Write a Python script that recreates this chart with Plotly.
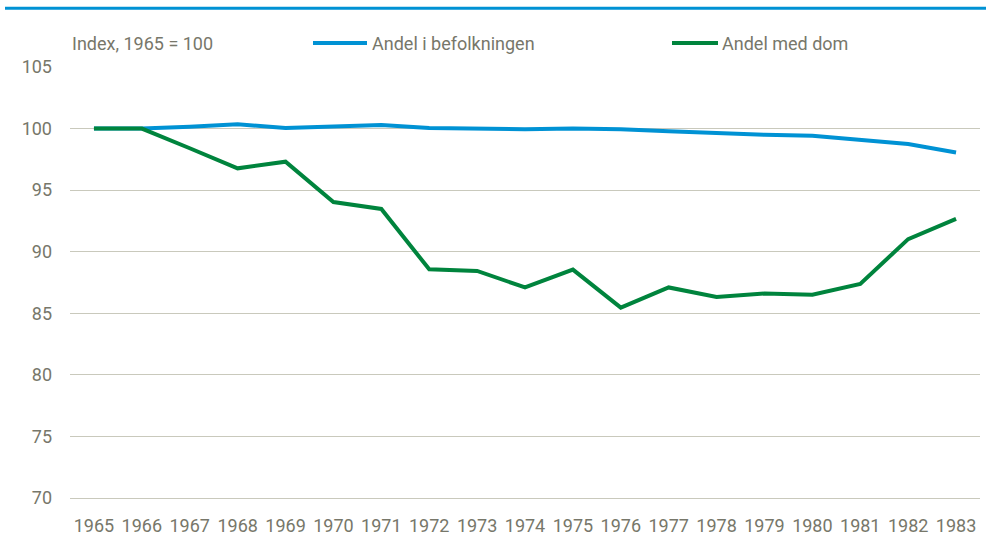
import plotly.graph_objects as go

years = [str(y) for y in range(1965, 1984)]
andel_befolkning = [100.0, 100.0, 100.15, 100.35, 100.05, 100.2, 100.3, 100.05, 100.0, 99.95,
                    100.0, 99.95, 99.78, 99.63, 99.5, 99.42, 99.1, 98.75, 98.05]
andel_dom = [100.0, 100.0, 98.4, 96.77, 97.31, 94.03, 93.47, 88.57, 88.44, 87.1,
             88.55, 85.46, 87.1, 86.32, 86.6, 86.5, 87.39, 91.02, 92.66]
y_ticks = [70, 75, 80, 85, 90, 95, 100, 105]
series_names = ["Andel i befolkningen", "Andel med dom"]

FONT = "Roboto, Liberation Sans, sans-serif"
TEXT = "#77776a"
GRID = "#c9c9bc"
BLUE = "#0092d4"
GREEN = "#00843d"

fig = go.Figure()
fig.add_trace(go.Scatter(x=years, y=andel_befolkning, mode="lines", name=series_names[0],
                         line=dict(color=BLUE, width=4)))
fig.add_trace(go.Scatter(x=years, y=andel_dom, mode="lines", name=series_names[1],
                         line=dict(color=GREEN, width=4)))

# plot area spans x 70..980 px, y 67..500 px
L, R, T, B = 70, 980, 67, 500


def px(x):
    return (x - L) / (R - L)


def py(y):
    return (B - y) / (B - T)


legend_y = py(43)
shapes = [
    dict(type="line", xref="paper", yref="paper", x0=px(5), x1=px(986), y0=py(8), y1=py(8),
         line=dict(color=BLUE, width=3)),
    dict(type="line", xref="paper", yref="paper", x0=px(313), x1=px(367), y0=legend_y, y1=legend_y,
         line=dict(color=BLUE, width=4)),
    dict(type="line", xref="paper", yref="paper", x0=px(672), x1=px(718), y0=legend_y, y1=legend_y,
         line=dict(color=GREEN, width=4)),
]
annotations = [
    dict(text="Index, 1965 = 100", x=px(70), y=legend_y),
    dict(text=series_names[0], x=px(370), y=legend_y),
    dict(text=series_names[1], x=px(720), y=legend_y),
]
for a in annotations:
    a.update(xref="paper", yref="paper", xanchor="left", yanchor="middle", showarrow=False,
             font=dict(family=FONT, size=18, color=TEXT))

fig.update_layout(
    width=986, height=542,
    margin=dict(l=L, r=986 - R, t=T, b=542 - B),
    paper_bgcolor="white", plot_bgcolor="white",
    font=dict(family=FONT, size=18, color=TEXT),
    showlegend=False,
    xaxis=dict(type="category", range=[-0.5, 18.5], showgrid=False, showline=True,
               linecolor=GRID, linewidth=1.3,
               ticks="", ticklabelstandoff=11, tickfont=dict(size=18, color=TEXT)),
    yaxis=dict(range=[70, 105], tickvals=y_ticks, showgrid=True, gridcolor=GRID, gridwidth=1.3,
               zeroline=False, showline=False, ticks="", ticklabelstandoff=17,
               tickfont=dict(size=18, color=TEXT)),
    annotations=annotations,
    shapes=shapes,
)

fig.write_html("out.html")
